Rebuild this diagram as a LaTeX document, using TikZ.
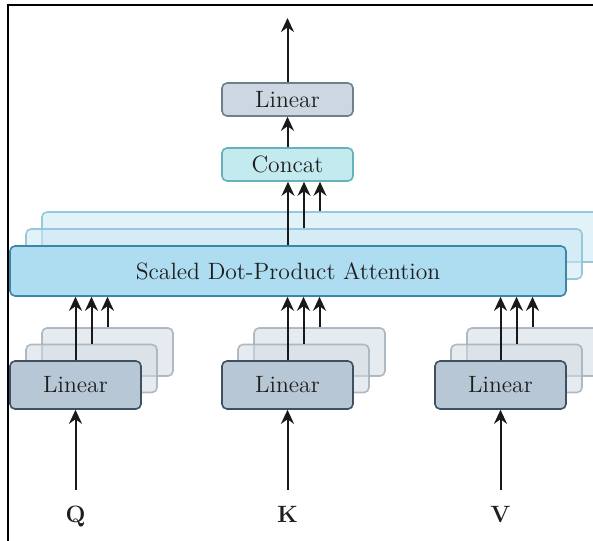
\documentclass[tikz,border=0pt]{standalone}
\usetikzlibrary{arrows.meta}
\definecolor{attfill}{HTML}{AEDCF0}
\definecolor{attdraw}{HTML}{3B88A6}
\definecolor{attback}{HTML}{CBE8F5}
\definecolor{attbackdraw}{HTML}{8EC3D7}
\definecolor{linfill}{HTML}{B7C7D5}
\definecolor{lindraw}{HTML}{3E5062}
\definecolor{linback}{HTML}{D3DBE3}
\definecolor{linbackdraw}{HTML}{A7B3BE}
\definecolor{toplinfill}{HTML}{CDD7E1}
\definecolor{toplindraw}{HTML}{6E7F8E}
\definecolor{catfill}{HTML}{C3EAEE}
\definecolor{catdraw}{HTML}{67B1B8}
\definecolor{txt}{HTML}{1E1E1E}
\begin{document}
\begin{tikzpicture}[x=0.5pt,y=-0.5pt,
  font=\fontsize{11.8}{14}\selectfont, text=txt,
  box/.style={rounded corners=2.5pt, line width=0.8pt, inner sep=0pt},
  attbox/.style={box, minimum width=278pt, minimum height=25pt, fill=attfill, draw=attdraw},
  attlayer/.style={box, minimum width=278pt, minimum height=25pt, fill=attback, draw=attbackdraw, fill opacity=0.55, draw opacity=0.9},
  linbox/.style={box, minimum width=65.5pt, minimum height=24pt, fill=linfill, draw=lindraw},
  linlayer/.style={box, minimum width=65.5pt, minimum height=24pt, fill=linback, draw=linbackdraw, fill opacity=0.55, draw opacity=0.9},
  topbox/.style={box, minimum width=65.5pt, minimum height=16.5pt},
  arr/.style={line width=1pt, draw=black!90, -{Stealth[length=7pt,width=6.5pt]}},
  inlabel/.style={font=\fontsize{11.8}{14}\selectfont\bfseries, anchor=base, inner sep=0pt}]
\clip (0,0) rectangle (593,540);
\fill[white] (0,0) rectangle (593,540);

% frame lines along the top and the left side
\draw[line width=1.4pt, black] (7,5) -- (600,5);
\draw[line width=1.4pt, black] (8,4) -- (8,545);

% stacked attention heads (back to front)
\node[attlayer] (att3) at (320,237) {};
\node[attlayer] (att2) at (304,254) {};
\node[attbox]   (att)  at (288,271) {Scaled Dot-Product Attention};

% stacked linear projections for Q, K, V
\foreach \n/\cx in {q/75.5, k/287.5, v/500.5} {
  \node[linlayer] (\n3) at (\cx+32,352) {};
  \node[linlayer] (\n2) at (\cx+16,368.5) {};
  \node[linbox]   (\n1) at (\cx,385) {Linear};
}

% concatenation and output projection
\node[topbox, fill=catfill, draw=catdraw] (concat) at (287.5,164.5) {Concat};
\node[topbox, fill=toplinfill, draw=toplindraw] (outlin) at (287.5,99.5) {Linear};
\coordinate (out) at (287.5,18);

% inputs
\node[inlabel] (Q) at (75.5,522) {Q};
\node[inlabel] (K) at (287.5,522) {K};
\node[inlabel] (V) at (500.5,522) {V};
\coordinate (qin) at (75.5,490);
\coordinate (kin) at (287.5,490);
\coordinate (vin) at (500.5,490);

% connectors
\foreach \n in {q,k,v} {
  \draw[arr] (\n in) -- (\n1.south);
  \foreach \l in {1,2,3}
    \draw[arr] (\n\l.north) -- (att.south -| \n\l.north);
}
\draw[arr] (att.north) -- (concat.south -| att.north);
\draw[arr] (att2.north) -- (concat.south -| att2.north);
\draw[arr] (att3.north) -- (concat.south -| att3.north);
\draw[arr] (concat.north) -- (outlin.south);
\draw[arr] (outlin.north) -- (out);
\end{tikzpicture}
\end{document}
